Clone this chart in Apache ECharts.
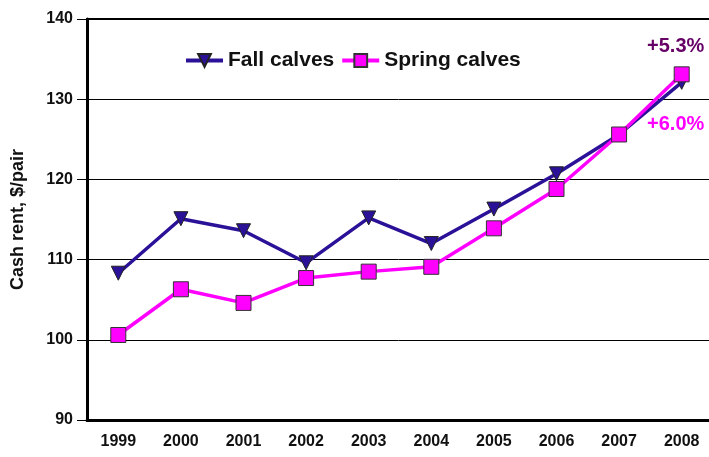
<!DOCTYPE html>
<html>
<head>
<meta charset="utf-8">
<script src="https://cdn.jsdelivr.net/npm/echarts@6/dist/echarts.min.js"></script>
<style>
  html, body { margin: 0; padding: 0; background: #fff; }
  #chart { width: 709px; height: 457px; }
</style>
</head>
<body>
<div id="chart"></div>
<script>
const years = ['1999', '2000', '2001', '2002', '2003', '2004', '2005', '2006', '2007', '2008']
const fallCalves = [108.3, 115.1, 113.6, 109.6, 115.2, 112.0, 116.3, 120.7, 125.6, 132.1]
const springCalves = [100.6, 106.3, 104.6, 107.7, 108.5, 109.1, 113.9, 118.8, 125.6, 133.1]
const fallGrowth = '+6.0%'
const springGrowth = '+5.3%'

const font = 'Liberation Sans, Arial, sans-serif'
const chart = echarts.init(document.getElementById('chart'))

// put the growth note on the last point only
function withLastLabel(values, text, color, offsetY) {
  return values.map(function (v, i) {
    if (i !== values.length - 1) return v
    return {
      value: v,
      label: {
        show: true,
        formatter: text,
        position: 'inside',
        offset: [-6, offsetY],
        color: color,
        fontFamily: font,
        fontWeight: 'bold',
        fontSize: 20
      }
    }
  })
}

chart.setOption({
  animation: false,
  grid: {
    left: 87,
    top: 19,
    width: 626,
    bottom: 37,
    outerBoundsMode: 'none',
    show: true,
    borderColor: '#000',
    borderWidth: 2
  },
  legend: {
    left: 179,
    top: 45,
    itemWidth: 37,
    itemHeight: 16,
    itemGap: 6,
    lineStyle: { width: 4 },
    textStyle: { fontFamily: font, fontWeight: 'bold', fontSize: 21, color: '#111' },
    data: ['Fall calves', 'Spring calves']
  },
  xAxis: {
    type: 'category',
    data: years,
    boundaryGap: true,
    axisLine: { lineStyle: { color: '#000', width: 3 } },
    axisTick: { alignWithLabel: true, length: 7, lineStyle: { color: '#888', width: 2 } },
    axisLabel: { fontFamily: font, fontWeight: 'bold', fontSize: 16, color: '#111', margin: 14 }
  },
  yAxis: {
    type: 'value',
    min: 90,
    max: 140,
    interval: 10,
    name: 'Cash rent, $/pair',
    nameLocation: 'middle',
    nameGap: 60,
    nameTextStyle: { fontFamily: font, fontWeight: 'bold', fontSize: 18, color: '#111' },
    axisLine: { show: true, lineStyle: { color: '#000', width: 3 } },
    axisTick: { show: true, length: 10, lineStyle: { color: '#000', width: 1 } },
    axisLabel: { fontFamily: font, fontWeight: 'bold', fontSize: 16, color: '#111', margin: 14 },
    splitLine: { lineStyle: { color: '#000', width: 1 } }
  },
  series: [
    {
      name: 'Fall calves',
      type: 'line',
      data: withLastLabel(fallCalves, fallGrowth, '#FF00FF', 42),
      symbol: 'triangle',
      symbolRotate: 180,
      symbolSize: 14,
      lineStyle: { color: '#2B1197', width: 3.5 },
      itemStyle: { color: '#2B1197', borderColor: '#222', borderWidth: 1 },
      z: 2
    },
    {
      name: 'Spring calves',
      type: 'line',
      data: withLastLabel(springCalves, springGrowth, '#660066', -28),
      symbol: 'rect',
      symbolSize: 15,
      lineStyle: { color: '#FF00FF', width: 3.5 },
      itemStyle: { color: '#FF00FF', borderColor: '#333', borderWidth: 1 },
      z: 3
    }
  ]
})
</script>
</body>
</html>
